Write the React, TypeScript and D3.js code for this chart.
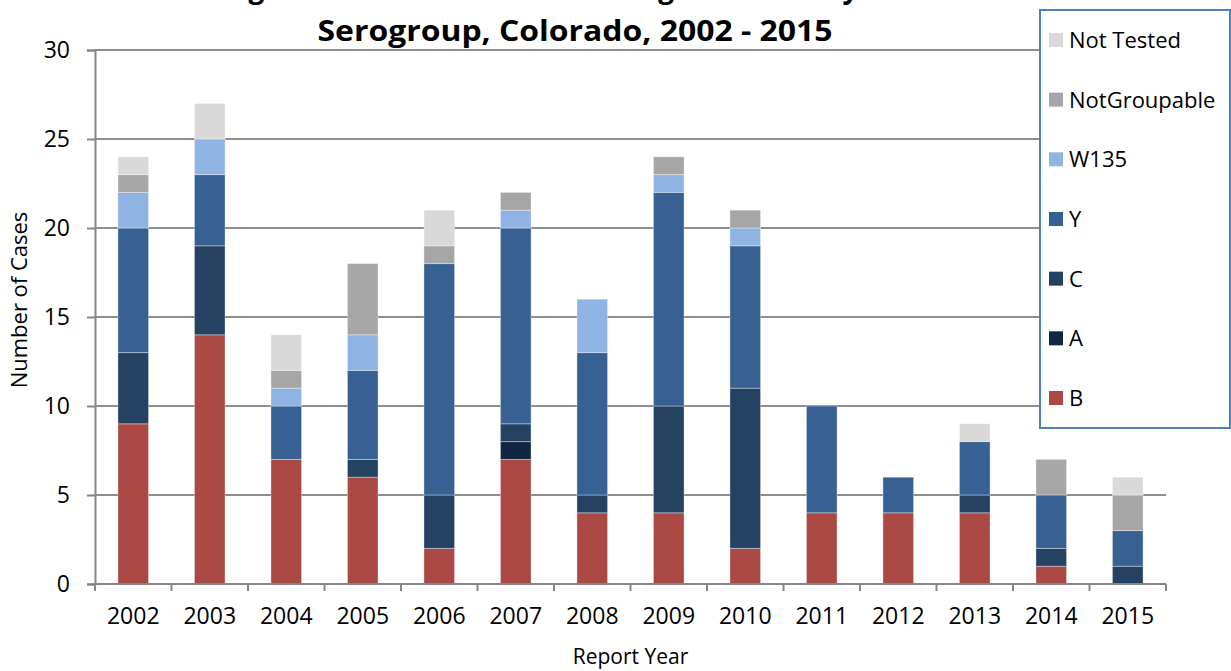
import React, { useEffect, useRef } from 'react';
import * as d3 from 'd3';

// Report years on the x axis
const years = ['2002', '2003', '2004', '2005', '2006', '2007', '2008', '2009', '2010', '2011', '2012', '2013', '2014', '2015'];

// Cases per serogroup, one value per year (stacked bottom to top)
const serogroupB = [9, 14, 7, 6, 2, 7, 4, 4, 2, 4, 4, 4, 1, 0];
const serogroupA = [0, 0, 0, 0, 0, 1, 0, 0, 0, 0, 0, 0, 0, 0];
const serogroupC = [4, 5, 0, 1, 3, 1, 1, 6, 9, 0, 0, 1, 1, 1];
const serogroupY = [7, 4, 3, 5, 13, 11, 8, 12, 8, 6, 2, 3, 3, 2];
const serogroupW135 = [2, 2, 1, 2, 0, 1, 3, 1, 1, 0, 0, 0, 0, 0];
const notGroupable = [1, 0, 1, 4, 1, 1, 0, 1, 1, 0, 0, 0, 2, 2];
const notTested = [1, 2, 2, 0, 2, 0, 0, 0, 0, 0, 0, 1, 0, 1];

const yTicks = [0, 5, 10, 15, 20, 25, 30];

const series = [
  { key: 'B', values: serogroupB, color: '#aa4944' },
  { key: 'A', values: serogroupA, color: '#112641' },
  { key: 'C', values: serogroupC, color: '#264263' },
  { key: 'Y', values: serogroupY, color: '#376192' },
  { key: 'W135', values: serogroupW135, color: '#8fb4e3' },
  { key: 'NotGroupable', values: notGroupable, color: '#a6a6a6' },
  { key: 'Not Tested', values: notTested, color: '#d9d9d9' },
];

const App = () => {
  const ref = useRef<SVGSVGElement | null>(null);

  useEffect(() => {
    if (!ref.current) return;
    const svg = d3.select(ref.current);
    svg.selectAll('*').remove();

    const left = 95, right = 1166, top = 50, bottom = 584;
    const font = "'Open Sans', sans-serif";

    const x = d3.scaleBand()
      .domain(years)
      .range([left, right])
      .paddingInner(0.6)
      .paddingOuter(0.3);

    const y = d3.scaleLinear().domain([0, 30]).range([bottom, top]);

    // rows for the stack
    const rows = years.map((yr, i) => {
      const row: any = { year: yr };
      series.forEach(s => { row[s.key] = s.values[i]; });
      return row;
    });
    const stacked = d3.stack().keys(series.map(s => s.key))(rows);

    // gridlines
    svg.append('g')
      .selectAll('line')
      .data(yTicks.filter(t => t > 0))
      .enter()
      .append('line')
      .attr('x1', left)
      .attr('x2', right)
      .attr('y1', d => y(d))
      .attr('y2', d => y(d))
      .attr('stroke', '#8e8e8e')
      .attr('stroke-width', 2);

    // bars
    const colorOf = (k: string) => series.find(s => s.key === k)!.color;
    stacked.forEach(layer => {
      svg.append('g')
        .selectAll('rect')
        .data(layer.filter(d => d[1] - d[0] > 0))
        .enter()
        .append('rect')
        .attr('x', d => x((d.data as any).year)!)
        .attr('width', x.bandwidth())
        .attr('y', d => y(d[1]))
        .attr('height', d => y(d[0]) - y(d[1]))
        .attr('fill', colorOf(layer.key))
        .attr('stroke', '#ffffff')
        .attr('stroke-opacity', 0.35)
        .attr('stroke-width', 1);
    });

    // y axis
    const yAxis = svg.append('g')
      .attr('transform', `translate(${left},0)`)
      .call(d3.axisLeft(y).tickValues(yTicks).tickSize(8).tickPadding(17));
    yAxis.select('.domain').attr('stroke', '#868686').attr('stroke-width', 2);
    yAxis.selectAll('.tick line').attr('stroke', '#868686').attr('stroke-width', 2);
    yAxis.selectAll('.tick text')
      .attr('font-family', font)
      .attr('font-size', 23)
      .attr('fill', '#000');

    // x axis: ticks on category boundaries
    const xAxis = svg.append('g')
      .attr('transform', `translate(0,${bottom})`)
      .call(d3.axisBottom(x).tickSize(0).tickPadding(24));
    xAxis.select('.domain').remove();
    xAxis.selectAll('.tick text')
      .attr('font-family', font)
      .attr('font-size', 23)
      .attr('fill', '#000');
    xAxis.append('line')
      .attr('x1', left - 1)
      .attr('x2', right)
      .attr('stroke', '#868686')
      .attr('stroke-width', 2);
    const step = x.step();
    const bounds = d3.range(years.length + 1).map(i => left + i * step);
    xAxis.selectAll('.bound')
      .data(bounds)
      .enter()
      .append('line')
      .attr('x1', d => d)
      .attr('x2', d => d)
      .attr('y1', 0)
      .attr('y2', 7)
      .attr('stroke', '#868686')
      .attr('stroke-width', 2);

    // axis titles
    svg.append('text')
      .attr('x', (left + right) / 2)
      .attr('y', 664)
      .attr('text-anchor', 'middle')
      .attr('font-family', font)
      .attr('font-size', 21)
      .text('Report Year');

    svg.append('text')
      .attr('transform', `translate(27,${(top + bottom) / 2 - 17}) rotate(-90)`)
      .attr('text-anchor', 'middle')
      .attr('font-family', font)
      .attr('font-size', 22)
      .text('Number of Cases');

    // title (first line runs off the top)
    svg.append('text')
      .attr('x', 575)
      .attr('y', -2)
      .attr('text-anchor', 'middle')
      .attr('font-family', font)
      .attr('font-weight', 'bold')
      .attr('font-size', 28)
      .text('Meningococcal Disease Cases Among Residents by Year and');
    svg.append('text')
      .attr('x', 575)
      .attr('y', 41)
      .attr('text-anchor', 'middle')
      .attr('font-family', font)
      .attr('font-weight', 'bold')
      .attr('font-size', 28)
      .attr('textLength', 515)
      .attr('lengthAdjust', 'spacingAndGlyphs')
      .text('Serogroup, Colorado, 2002 - 2015');

    // legend
    const legend = svg.append('g');
    legend.append('rect')
      .attr('x', 1040)
      .attr('y', 10)
      .attr('width', 190)
      .attr('height', 418)
      .attr('fill', '#fff')
      .attr('stroke', '#4f81bd')
      .attr('stroke-width', 2);
    const items = series.slice().reverse();
    const ly = d3.scalePoint().domain(items.map(s => s.key)).range([40, 398]);
    const entry = legend.selectAll('.entry')
      .data(items)
      .enter()
      .append('g')
      .attr('transform', d => `translate(1049,${ly(d.key)})`);
    entry.append('rect')
      .attr('x', 0)
      .attr('y', -7)
      .attr('width', 14)
      .attr('height', 14)
      .attr('fill', d => d.color);
    entry.append('text')
      .attr('x', 20)
      .attr('y', 8)
      .attr('font-family', font)
      .attr('font-size', 22)
      .text(d => d.key);
  }, []);

  return (
    <svg
      ref={ref}
      width={1231}
      height={671}
      style={{ position: 'absolute', left: 0, top: 0, background: '#fff' }}
    />
  );
};

export default App;
